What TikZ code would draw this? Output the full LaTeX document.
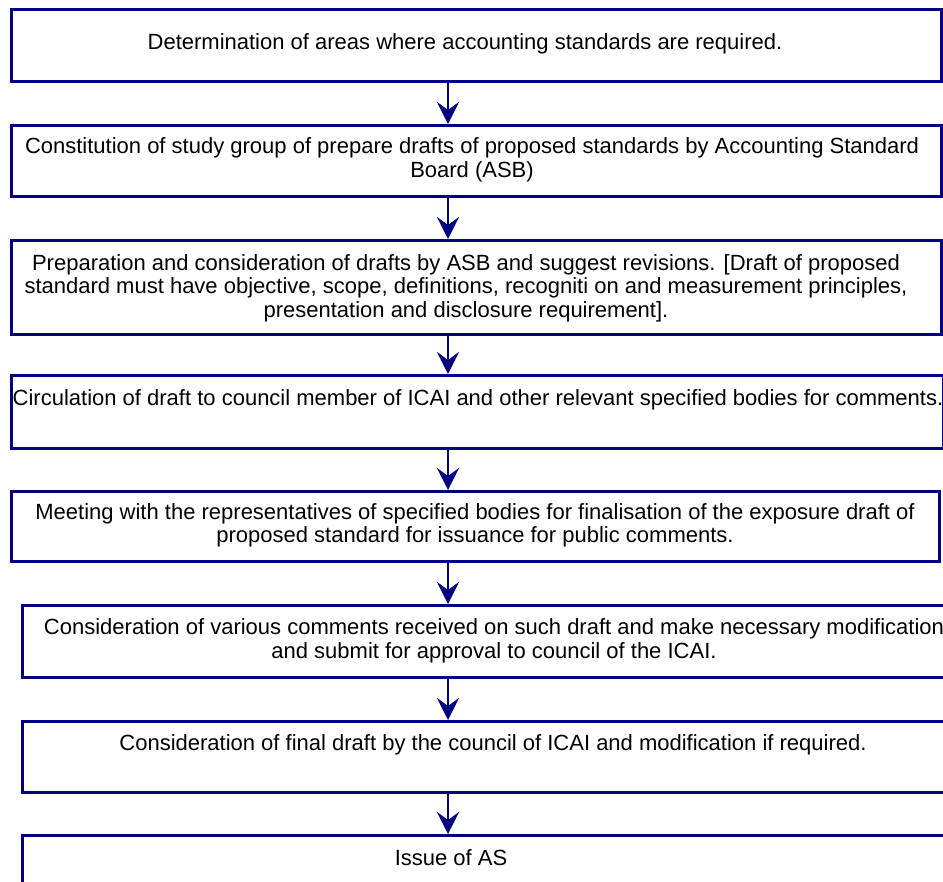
\documentclass[tikz,border=0pt]{standalone}
\usepackage{fontspec}
\setmainfont{Liberation Sans}
\usetikzlibrary{arrows.meta}
\definecolor{navyline}{RGB}{0,0,128}
\begin{document}
\begin{tikzpicture}[x=1pt,y=-1pt,
  box/.style={draw=navyline, line width=2.6pt, rectangle, anchor=north west, inner sep=0pt},
  txt/.style={align=center, inner sep=0pt, font=\fontsize{22}{23.6}\selectfont, text=black},
  flow/.style={draw=navyline, line width=2.6pt, -{Stealth[length=22pt,width=22pt,inset=8pt]}}]
\useasboundingbox (0,0) rectangle (943,882);
\clip (0,0) rectangle (943,882);
\fill[white] (0,0) rectangle (943,882);
\coordinate (ax) at (448,0);
% boxes
\node[box, minimum width=930pt, minimum height=72pt] (b1) at (10,8) {};
\node[box, minimum width=930pt, minimum height=71pt] (b2) at (10,124) {};
\node[box, minimum width=930pt, minimum height=94pt] (b3) at (10,239) {};
\node[box, minimum width=932pt, minimum height=73pt] (b4) at (10,374) {};
\node[box, minimum width=928pt, minimum height=70pt] (b5) at (10,490) {};
\node[box, minimum width=960pt, minimum height=72pt] (b6) at (21,604) {};
\node[box, minimum width=960pt, minimum height=71pt] (b7) at (21,720) {};
\node[box, minimum width=960pt, minimum height=90pt] (b8) at (21,834) {};
% texts
\node[txt] (t1) at (465,44) {Determination of areas where accounting standards are required.};
\node[txt] (t2) at (472,160) {Constitution of study group of prepare drafts of proposed standards by Accounting Standard\\Board (ASB)};
\node[txt] (t3) at (466,288) {Preparation and consideration of drafts by ASB and suggest revisions. [Draft of proposed\\standard must have objective, scope, definitions, recogniti on and measurement principles,\\presentation and disclosure requirement].};
\node[txt] (t4) at (478,400) {Circulation of draft to council member of ICAI and other relevant specified bodies for comments.};
\node[txt] (t5) at (475,525.5) {Meeting with the representatives of specified bodies for finalisation of the exposure draft of\\proposed standard for issuance for public comments.};
\node[txt] (t6) at (494,641) {Consideration of various comments received on such draft and make necessary modification\\and submit for approval to council of the ICAI.};
\node[txt] (t7) at (493,745) {Consideration of final draft by the council of ICAI and modification if required.};
\node[txt] (t8) at (451,858) {Issue of AS};
% arrows
\draw[flow] (b1.south -| ax) -- (b2.north -| ax);
\draw[flow] (b2.south -| ax) -- (b3.north -| ax);
\draw[flow] (b3.south -| ax) -- (b4.north -| ax);
\draw[flow] (b4.south -| ax) -- (b5.north -| ax);
\draw[flow] (b5.south -| ax) -- (b6.north -| ax);
\draw[flow] (b6.south -| ax) -- (b7.north -| ax);
\draw[flow] (b7.south -| ax) -- (b8.north -| ax);
\end{tikzpicture}
\end{document}
